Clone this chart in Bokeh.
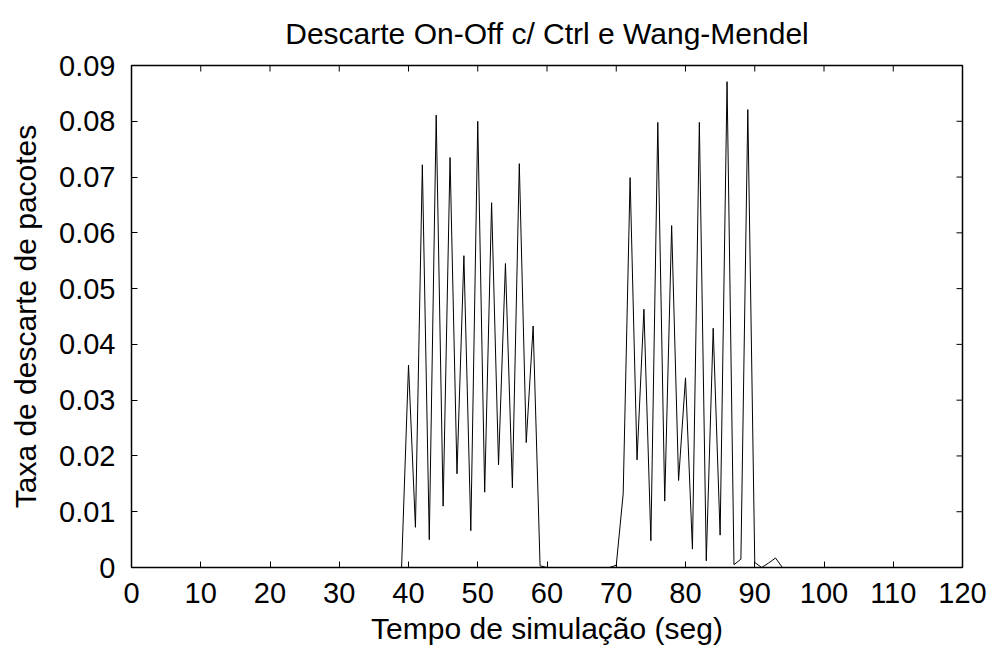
from bokeh.plotting import figure
from bokeh.models import Range1d, FixedTicker, LinearAxis
from bokeh.embed import file_html
from bokeh.resources import INLINE

# Packet discard rate per second of simulation
tempo = list(range(0, 121))
descarte_pontos = {
    39: 0.0, 40: 0.0363, 41: 0.0072, 42: 0.0722, 43: 0.0050, 44: 0.0811,
    45: 0.0110, 46: 0.0735, 47: 0.0168, 48: 0.0559, 49: 0.0066, 50: 0.0800,
    51: 0.0135, 52: 0.0654, 53: 0.0184, 54: 0.0545, 55: 0.0143, 56: 0.0724,
    57: 0.0224, 58: 0.0433, 59: 0.0003, 60: 0.0,
    69: 0.0, 70: 0.0004, 71: 0.0132, 72: 0.0699, 73: 0.0193, 74: 0.0463,
    75: 0.0048, 76: 0.0798, 77: 0.0119, 78: 0.0613, 79: 0.0156, 80: 0.0340,
    81: 0.0033, 82: 0.0798, 83: 0.0012, 84: 0.0429, 85: 0.0058, 86: 0.0871,
    87: 0.0005, 88: 0.0015, 89: 0.0821, 90: 0.0009, 91: 0.0, 92: 0.0008,
    93: 0.0017, 94: 0.0,
}
taxa = [descarte_pontos.get(t, 0.0) for t in tempo]

x_ticks = list(range(0, 121, 10))
y_ticks = [0.0, 0.01, 0.02, 0.03, 0.04, 0.05, 0.06, 0.07, 0.08, 0.09]
y_tick_labels = ["0", "0.01", "0.02", "0.03", "0.04", "0.05", "0.06", "0.07", "0.08", "0.09"]

X_MIN, X_MAX = 0, 120
Y_MIN, Y_MAX = 0.0, 0.09

FONT = "Liberation Sans"
TICK_PX = 6
FRAME_W = 831
FRAME_H = 502

p = figure(width=994, height=647, output_backend="svg", toolbar_location=None,
           x_range=Range1d(X_MIN, X_MAX), y_range=Range1d(Y_MIN, Y_MAX),
           x_axis_type=None, y_axis_type=None,
           min_border_left=131, min_border_right=32,
           min_border_top=65, min_border_bottom=80)

p.title.text = "Descarte On-Off c/ Ctrl e Wang-Mendel"
p.title.align = "center"
p.title.vertical_align = "middle"
p.title.text_font = FONT
p.title.text_font_size = "30px"
p.title.text_font_style = "normal"
p.title.text_color = "black"
p.title.standoff = 29

p.grid.visible = False
p.outline_line_color = "black"
p.outline_line_width = 1.5
p.background_fill_color = "white"
p.border_fill_color = "white"


def make_axis(ticks):
    ax = LinearAxis(ticker=FixedTicker(ticks=ticks))
    ax.axis_line_color = None
    ax.major_tick_in = TICK_PX
    ax.major_tick_out = 0
    ax.major_tick_line_color = "black"
    ax.minor_tick_line_color = None
    ax.major_label_text_font = FONT
    ax.major_label_text_font_size = "29px"
    ax.major_label_text_color = "black"
    ax.axis_label_text_font = FONT
    ax.axis_label_text_font_size = "30px"
    ax.axis_label_text_font_style = "normal"
    ax.axis_label_text_color = "black"
    return ax


xb = make_axis(x_ticks)
xb.axis_label = "Tempo de simulação (seg)"
xb.major_label_standoff = 15
xb.axis_label_standoff = 6
p.add_layout(xb, "below")

yl = make_axis(y_ticks)
yl.axis_label = "Taxa de descarte de pacotes"
yl.major_label_overrides = {t: s for t, s in zip(y_ticks, y_tick_labels)}
yl.major_label_standoff = 16
yl.axis_label_standoff = 14
p.add_layout(yl, "left")

# mirrored inward ticks on the top and right edges of the frame
dy = TICK_PX * (Y_MAX - Y_MIN) / FRAME_H
dx = TICK_PX * (X_MAX - X_MIN) / FRAME_W
p.segment(x0=x_ticks, y0=[Y_MAX] * len(x_ticks), x1=x_ticks, y1=[Y_MAX - dy] * len(x_ticks),
          line_color="black", line_width=1)
p.segment(x0=[X_MAX] * len(y_ticks), y0=y_ticks, x1=[X_MAX - dx] * len(y_ticks), y1=y_ticks,
          line_color="black", line_width=1)

p.line(tempo, taxa, line_color="black", line_width=1)

open("out.html", "w").write(file_html(p, INLINE))
